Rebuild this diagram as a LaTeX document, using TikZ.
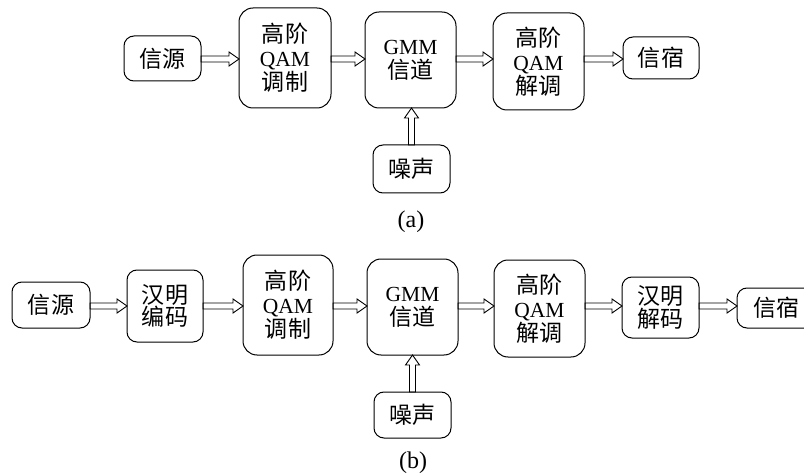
\documentclass[tikz,border=0pt]{standalone}
\usepackage{fontspec}
\setmainfont{Liberation Serif}
\newfontfamily\cjk[Scale=1.07]{Noto Sans CJK SC}
\newcommand{\zh}[1]{{\cjk #1}}
\usetikzlibrary{calc}
\tikzset{box/.style={draw, line width=1pt, rounded corners=14pt, align=center,
        inner sep=0pt, outer sep=0pt, font=\fontsize{21.5pt}{24pt}\selectfont},
    bigbox/.style={box, minimum width=91pt, minimum height=97pt},
    smallbox/.style={box, rounded corners=10pt, minimum width=77pt, minimum height=46pt},
    % hollow block arrows, pointing right / up
    hflow/.style={draw, line width=0.9pt, to path={let \p1=(\tikztostart), \p2=(\tikztotarget) in
        (\x1,\y1+3pt) -- (\x2-10pt,\y1+3pt) -- (\x2-10pt,\y1+7pt) -- (\x2,\y1)
        -- (\x2-10pt,\y1-7pt) -- (\x2-10pt,\y1-3pt) -- (\x1,\y1-3pt) -- cycle}},
    vflow/.style={draw, line width=0.9pt, to path={let \p1=(\tikztostart), \p2=(\tikztotarget) in
        (\x1-3pt,\y1) -- (\x1-3pt,\y2-10pt) -- (\x1-7pt,\y2-10pt) -- (\x1,\y2)
        -- (\x1+7pt,\y2-10pt) -- (\x1+3pt,\y2-10pt) -- (\x1+3pt,\y1) -- cycle}},
    caption/.style={font=\fontsize{24pt}{26pt}\selectfont}}

\begin{document}
\begin{tikzpicture}[x=1pt, y=-1pt]
    \useasboundingbox (0,0) rectangle (804,476);
    % (a)
    \node[smallbox, minimum height=45pt]              (srcA)   at (162.5,58.5) {\zh{信源}};
    \node[bigbox, minimum width=92pt, minimum height=100pt] (modA) at (285,58) {\zh{高阶}\\QAM\\\zh{调制}};
    \node[bigbox, minimum height=96pt]                 (chA)    at (410.5,60) {GMM\\\zh{信道}};
    \node[bigbox]                                     (demA)   at (538.5,61.5) {\zh{高阶}\\QAM\\\zh{解调}};
    \node[smallbox, minimum width=76pt, minimum height=42pt] (sinkA) at (661,58) {\zh{信宿}};
    \node[smallbox, minimum height=48pt]              (noiseA) at (411.5,169) {\zh{噪声}};
    \path[hflow] (srcA.east |- 0,59) to (modA.west |- 0,59);
    \path[hflow] (modA.east |- 0,59) to (chA.west |- 0,59);
    \path[hflow] (chA.east |- 0,59)  to (demA.west |- 0,59);
    \path[hflow] (demA.east |- 0,59) to (sinkA.west |- 0,59);
    \path[vflow] (noiseA.north) to (noiseA.north |- chA.south);
    \node[caption] (capA) at (411,222) {(a)};
    % (b)
    \node[smallbox, minimum width=78pt]               (srcB)   at (51,305) {\zh{信源}};
    \node[smallbox, minimum width=76pt, minimum height=72pt,
        font=\fontsize{21.5pt}{21pt}\selectfont]      (encB)   at (165,306) {\zh{汉明}\\\zh{编码}};
    \node[bigbox, minimum width=90pt, minimum height=100pt] (modB) at (288,305) {\zh{高阶}\\QAM\\\zh{调制}};
    \node[bigbox, minimum height=96pt]                 (chB)    at (412.5,307) {GMM\\\zh{信道}};
    \node[bigbox]                                     (demB)   at (539.5,308.5) {\zh{高阶}\\QAM\\\zh{解调}};
    \node[smallbox, minimum height=61pt,
        font=\fontsize{21.5pt}{21pt}\selectfont]      (decB)   at (660.5,307.5) {\zh{汉明}\\\zh{解码}};
    \node[smallbox, minimum width=78pt, minimum height=40pt] (sinkB) at (776,308) {\zh{信宿}};
    \node[smallbox]                                   (noiseB) at (412.5,415) {\zh{噪声}};
    \path[hflow] (srcB.east |- 0,306) to (encB.west |- 0,306);
    \path[hflow] (encB.east |- 0,306) to (modB.west |- 0,306);
    \path[hflow] (modB.east |- 0,306) to (chB.west |- 0,306);
    \path[hflow] (chB.east |- 0,306)  to (demB.west |- 0,306);
    \path[hflow] (demB.east |- 0,306) to (decB.west |- 0,306);
    \path[hflow] (decB.east |- 0,306) to (sinkB.west |- 0,306);
    \path[vflow] (noiseB.north) to (noiseB.north |- chB.south);
    \node[caption] (capB) at (413,463) {(b)};
\end{tikzpicture}
\end{document}
